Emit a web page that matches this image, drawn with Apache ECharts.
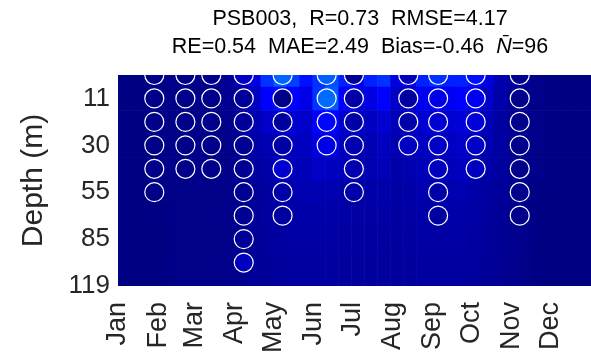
<!DOCTYPE html>
<html><head><meta charset="utf-8">
<script src="https://cdn.jsdelivr.net/npm/echarts@6/dist/echarts.min.js"></script>
<style>html,body{margin:0;padding:0;background:#fff}#c{width:591px;height:357px}</style>
</head><body><div id="c"></div>
<script>
// ---- axes ----
const monthLabels = ['Jan','Feb','Mar','Apr','May','Jun','Jul','Aug','Sep','Oct','Nov','Dec'];
const monthStartDays = [0,31,59,90,120,151,181,212,243,273,304,334];
const depthTickLevels = [1,3,5,7,9];
const depthTickLabels = ['11','30','55','85','119'];

// ---- background field (model), rows = depth levels 0..8, columns = 10-day bins ----
const bgBinStartDays = [0,10,20,30,40,50,60,70,80,90,100,110,120,130,140,150,160,170,180,190,200,210,220,230,240,250,260,270,280,290,300,310,320,330,340,350,360];
const bgRow0 = [0.1,0.1,0.2,0.3,0.3,0.3,0.3,0.4,1.0,2.0,3.8,6.9,8.6,7.5,5.6,6.9,8.1,6.25,4.4,6.25,6.9,3.8,4.1,6.25,6.9,6.25,6.25,5.6,3.8,1.9,1.3,0.8,0.4,0.2,0.1,0.1,0.1];
const bgRow1 = [0.1,0.1,0.2,0.3,0.3,0.3,0.3,0.3,0.7,1.3,2.5,5.0,5.6,5.0,4.1,7.0,8.5,5.0,3.8,3.8,5.0,2.8,2.8,4.4,4.7,4.4,5.0,4.4,2.8,1.6,1.0,0.6,0.3,0.2,0.1,0.1,0.1];
const bgRow2 = [0.1,0.1,0.2,0.3,0.3,0.3,0.3,0.3,0.5,1.0,1.9,2.85,3.2,3.2,2.85,5.0,5.0,3.2,2.8,2.5,3.2,2.2,2.5,3.2,3.5,3.2,3.5,3.2,2.2,1.3,0.8,0.5,0.3,0.2,0.1,0.1,0.1];
const bgRow3 = [0.1,0.1,0.2,0.3,0.3,0.3,0.3,0.3,0.4,0.9,1.6,1.9,2.2,2.5,2.5,3.8,3.8,2.5,2.2,2.0,2.5,1.9,2.2,2.5,2.5,2.5,2.85,2.5,1.9,1.3,0.8,0.5,0.3,0.2,0.1,0.1,0.1];
const bgRow4 = [0.1,0.1,0.2,0.3,0.3,0.3,0.3,0.3,0.4,0.8,1.3,1.6,2.5,2.2,2.2,2.8,2.5,2.2,1.9,1.9,2.2,1.6,1.9,2.2,2.2,2.2,2.5,2.2,1.6,1.2,0.8,0.5,0.3,0.2,0.1,0.1,0.1];
const bgRow5 = [0.1,0.1,0.2,0.3,0.3,0.3,0.3,0.3,0.4,0.8,1.1,1.3,1.6,1.9,1.9,2.0,1.9,1.6,1.6,1.6,1.6,1.4,1.6,1.8,1.9,1.8,1.9,1.6,1.3,1.0,0.7,0.4,0.2,0.1,0.1,0.1,0.1];
const bgRow6 = [0.1,0.1,0.2,0.2,0.3,0.3,0.3,0.3,0.4,0.7,1.0,1.2,1.4,1.6,1.6,1.6,1.6,1.4,1.4,1.4,1.4,1.3,1.4,1.6,1.6,1.6,1.6,1.4,1.2,0.9,0.6,0.4,0.2,0.1,0.1,0.1,0.1];
const bgRow7 = [0.1,0.1,0.1,0.2,0.3,0.3,0.3,0.3,0.4,0.7,0.9,1.1,1.3,1.4,1.4,1.4,1.4,1.3,1.3,1.3,1.3,1.2,1.3,1.4,1.4,1.4,1.4,1.3,1.1,0.8,0.6,0.4,0.2,0.1,0.1,0.1,0.1];
const bgRow8 = [0.1,0.1,0.1,0.2,0.3,0.3,0.3,0.3,0.4,0.6,0.9,1.0,1.2,1.3,1.3,1.3,1.3,1.2,1.2,1.2,1.2,1.1,1.2,1.3,1.3,1.3,1.3,1.2,1.0,0.8,0.5,0.3,0.2,0.1,0.1,0.1,0.1];
const bgRows = [bgRow0,bgRow1,bgRow2,bgRow3,bgRow4,bgRow5,bgRow6,bgRow7,bgRow8];

// ---- observations: day of year, values from top level downward ----
const obsDays = [28,52,72,97,127,161,182,224,247,276,310];
const obsFeb1 = [0.4,0.3,0.3,0.3,0.3,0.3];
const obsFeb2 = [0.3,0.3,0.3,0.3,0.3];
const obsMar  = [0.4,0.4,0.4,0.4,0.4];
const obsApr  = [2.8,1.0,1.0,0.7,0.7,0.7,0.7,1.0,2.5];
const obsMay  = [9.0,0.3,1.1,1.6,3.2,1.6,1.3];
const obsJun  = [8.7,9.2,5.2,4.1];
const obsJul  = [0.8,1.5,1.6,1.9,1.9,1.6];
const obsAug  = [2.2,1.3,1.6,2.5];
const obsSep  = [6.9,4.1,3.2,2.8,2.5,1.6,1.3];
const obsOct  = [5.6,4.4,3.5,2.8,2.5];
const obsNov  = [0.6,0.4,0.4,0.4,0.4,0.4,0.4];
const obsCols = [obsFeb1,obsFeb2,obsMar,obsApr,obsMay,obsJun,obsJul,obsAug,obsSep,obsOct,obsNov];

const jet = ['#000080','#0000ff','#0080ff','#00ffff','#80ff80','#ffff00','#ff8000','#ff0000','#800000'];

// build data
const bgData = [];
bgRows.forEach((row, r) => {
  const y0 = Math.max(0, r - 0.5), y1 = (r === bgRows.length - 1) ? 9 : r + 0.5;
  row.forEach((v, c) => {
    const x0 = bgBinStartDays[c];
    const x1 = c + 1 < bgBinStartDays.length ? bgBinStartDays[c + 1] : 365;
    bgData.push([x0, x1, y0, y1, v]);
  });
});
const obsData = [];
obsCols.forEach((col, i) => col.forEach((v, lvl) => obsData.push([obsDays[i], lvl, v])));

const FONT = 'Liberation Sans, Arial, sans-serif';
const chart = echarts.init(document.getElementById('c'), null, {renderer: 'canvas'});
chart.setOption({
  animation: false,
  backgroundColor: '#fff',
  title: {
    left: 355, top: 0, textAlign: 'center',
    text: 'PSB003,  R=0.73  RMSE=4.17\nRE=0.54  MAE=2.49  Bias=-0.46  {i|N\u0304}=96',
    textStyle: {
      fontFamily: FONT, fontSize: 21.5, fontWeight: 'normal', color: '#000', lineHeight: 28,
      rich: { i: { fontFamily: FONT, fontSize: 21.5, fontStyle: 'italic', color: '#000', lineHeight: 28 } }
    }
  },
  grid: { left: 118, right: 0, top: 75, bottom: 71, containLabel: false },
  xAxis: {
    type: 'value', min: 0, max: 365,
    axisLine: {show: false}, axisTick: {show: false}, splitLine: {show: false},
    axisLabel: {
      customValues: monthStartDays,
      formatter: v => monthLabels[monthStartDays.indexOf(v)] || '',
      rotate: 90, fontSize: 27, color: '#262626', margin: 16, fontFamily: FONT
    }
  },
  yAxis: {
    type: 'value', inverse: true, min: 0, max: 9,
    axisLine: {show: false}, axisTick: {show: false}, splitLine: {show: false},
    axisLabel: {
      customValues: depthTickLevels,
      formatter: v => depthTickLabels[depthTickLevels.indexOf(v)] || '',
      fontSize: 26, color: '#262626', margin: 8, fontFamily: FONT
    },
    name: 'Depth (m)', nameLocation: 'middle', nameGap: 69,
    nameTextStyle: { fontSize: 30, color: '#262626', fontFamily: FONT }
  },
  visualMap: [
    { type: 'continuous', show: false, min: 0, max: 40, dimension: 4, seriesIndex: 0, inRange: {color: jet} },
    { type: 'continuous', show: false, min: 0, max: 40, dimension: 2, seriesIndex: 1, inRange: {color: jet} }
  ],
  series: [
    {
      type: 'custom', clip: true, silent: true,
      encode: { x: [0, 1], y: [2, 3] },
      data: bgData,
      renderItem: (params, api) => {
        const p0 = api.coord([api.value(0), api.value(2)]);
        const p1 = api.coord([api.value(1), api.value(3)]);
        return { type: 'rect',
          shape: { x: Math.min(p0[0], p1[0]), y: Math.min(p0[1], p1[1]),
                   width: Math.abs(p1[0] - p0[0]) + 0.6, height: Math.abs(p1[1] - p0[1]) + 0.6 },
          style: { fill: api.visual('color') } };
      }
    },
    {
      type: 'custom', clip: true, silent: true,
      encode: { x: 0, y: 1 },
      data: obsData,
      renderItem: (params, api) => {
        const p = api.coord([api.value(0), api.value(1)]);
        return { type: 'circle', shape: { cx: p[0], cy: p[1], r: 9.5 },
          style: { fill: api.visual('color'), stroke: '#ffffff', lineWidth: 1.2 } };
      }
    }
  ]
});
</script>
</body></html>
